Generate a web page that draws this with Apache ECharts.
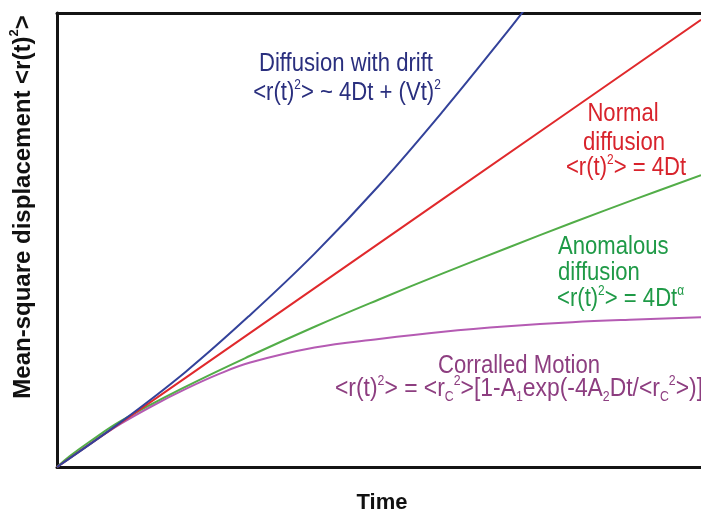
<!DOCTYPE html>
<html>
<head>
<meta charset="utf-8">
<script src="https://cdn.jsdelivr.net/npm/echarts@6/dist/echarts.min.js"></script>
<style>
  html, body { margin: 0; padding: 0; background: #ffffff; }
  #chart { width: 701px; height: 516px; }
</style>
</head>
<body>
<div id="chart"></div>
<script>
// Mean-square displacement vs. time for four kinds of motion (arbitrary units)
const timeDrift = [0, 10, 20, 30, 40, 50, 60, 70, 73];
const msdDrift  = [0, 10, 21, 33.5, 47, 62, 78.5, 96, 101.5];

const timeNormal = [0, 20, 40, 60, 80, 100];
const msdNormal  = [0, 19.7, 39.4, 59.1, 78.8, 98.5];

const timeAnomalous = [0, 2, 5, 10, 20, 30, 40, 50, 60, 70, 80, 90, 100];
const msdAnomalous  = [0, 2.4, 5.5, 10.2, 17.7, 24.5, 30.9, 36.9, 42.7, 48.3, 53.8, 59.1, 64.3];

const timeCorralled = [0, 5, 10, 15, 20, 25, 30, 40, 50, 60, 70, 80, 90, 100];
const msdCorralled  = [0, 5, 9.6, 13.6, 17.2, 20.4, 23, 26.3, 28.2, 29.8, 31, 31.9, 32.5, 33];

const axisMin = 0;
const axisMax = 100;

const pairs = (xs, ys) => xs.map((x, i) => [x, ys[i]]);

const sans = "'Liberation Sans', Arial, sans-serif";

// rich-text styles for a given colour: base text, superscript, subscript
function richFor(color, size, bold) {
  const w = bold ? 'bold' : 'normal';
  const small = Math.round(size * 0.54);
  return {
    n:   { fontFamily: sans, fontSize: size, fontWeight: w, lineHeight: 30, verticalAlign: 'middle', color: color },
    sup: { fontFamily: sans, fontSize: small, fontWeight: w, lineHeight: 18, verticalAlign: 'top', color: color },
    sub: { fontFamily: sans, fontSize: small, fontWeight: w, lineHeight: 13, verticalAlign: 'bottom', color: color }
  };
}

// annotation text; condensed horizontally like a narrow typeface
function label(x, y, text, color, align, opts) {
  opts = opts || {};
  const size = opts.size || 26;
  return {
    type: 'text',
    x: x, y: y,
    rotation: opts.rotation || 0,
    scaleX: opts.scaleX || 0.85,
    silent: true,
    style: {
      text: text,
      align: align,
      verticalAlign: 'middle',
      fill: color,
      rich: richFor(color, size, opts.bold)
    }
  };
}

const navy = '#2a2f7e', red = '#d8232c', green = '#1f9a47', plum = '#8d3e80';

const chart = echarts.init(document.getElementById('chart'), null, { renderer: 'canvas' });

chart.setOption({
  animation: false,
  backgroundColor: '#ffffff',
  grid: { left: 57, right: 0, top: 13, bottom: 49, containLabel: false },
  xAxis: [
    {
      type: 'value', min: axisMin, max: axisMax,
      axisLine: { show: true, onZero: false, lineStyle: { color: '#141414', width: 3 } },
      axisTick: { show: false }, axisLabel: { show: false }, splitLine: { show: false }
    },
    {
      type: 'value', position: 'top', min: axisMin, max: axisMax,
      axisLine: { show: true, onZero: false, lineStyle: { color: '#141414', width: 3 } },
      axisTick: { show: false }, axisLabel: { show: false }, splitLine: { show: false }
    }
  ],
  yAxis: {
    type: 'value', min: axisMin, max: axisMax,
    axisLine: { show: true, onZero: false, lineStyle: { color: '#141414', width: 3 } },
    axisTick: { show: false }, axisLabel: { show: false }, splitLine: { show: false }
  },
  series: [
    { name: 'Corralled Motion', type: 'line', data: pairs(timeCorralled, msdCorralled),
      showSymbol: false, smooth: 0.4, lineStyle: { color: '#b55bb3', width: 2 }, itemStyle: { color: '#b55bb3' } },
    { name: 'Anomalous diffusion', type: 'line', data: pairs(timeAnomalous, msdAnomalous),
      showSymbol: false, smooth: 0.4, lineStyle: { color: '#52ad48', width: 2 }, itemStyle: { color: '#52ad48' } },
    { name: 'Normal diffusion', type: 'line', data: pairs(timeNormal, msdNormal),
      showSymbol: false, smooth: false, lineStyle: { color: '#e0292c', width: 2 }, itemStyle: { color: '#e0292c' } },
    { name: 'Diffusion with drift', type: 'line', data: pairs(timeDrift, msdDrift),
      showSymbol: false, smooth: 0.4, lineStyle: { color: '#33429a', width: 2 }, itemStyle: { color: '#33429a' } }
  ],
  graphic: [
    // axis titles
    label(23, 207, '{n|Mean-square displacement <r(t)}{sup|2}{n|>}', '#111111', 'center',
      { rotation: Math.PI / 2, bold: true, size: 24, scaleX: 1 }),
    label(382, 503, '{n|Time}', '#111111', 'center', { bold: true, size: 22, scaleX: 1 }),

    // curve annotations
    label(346, 64, '{n|Diffusion with drift}', navy, 'center'),
    label(347, 93, '{n|<r(t)}{sup|2}{n|> ~ 4Dt + (Vt)}{sup|2}', navy, 'center'),

    label(623, 114, '{n|Normal}', red, 'center'),
    label(624, 143, '{n|diffusion}', red, 'center'),
    label(626, 168, '{n|<r(t)}{sup|2}{n|> = 4Dt}', red, 'center'),

    label(558, 247, '{n|Anomalous}', green, 'left'),
    label(558, 273, '{n|diffusion}', green, 'left'),
    label(557, 299, '{n|<r(t)}{sup|2}{n|> = 4Dt}{sup|α}', green, 'left'),

    label(519, 366, '{n|Corralled Motion}', plum, 'center'),
    label(519, 389, '{n|<r(t)}{sup|2}{n|> = <r}{sub|C}{sup|2}{n|>[1-A}{sub|1}{n|exp(-4A}{sub|2}{n|Dt/<r}{sub|C}{sup|2}{n|>)]}', plum, 'center', { scaleX: 0.88 })
  ]
});
</script>
</body>
</html>
